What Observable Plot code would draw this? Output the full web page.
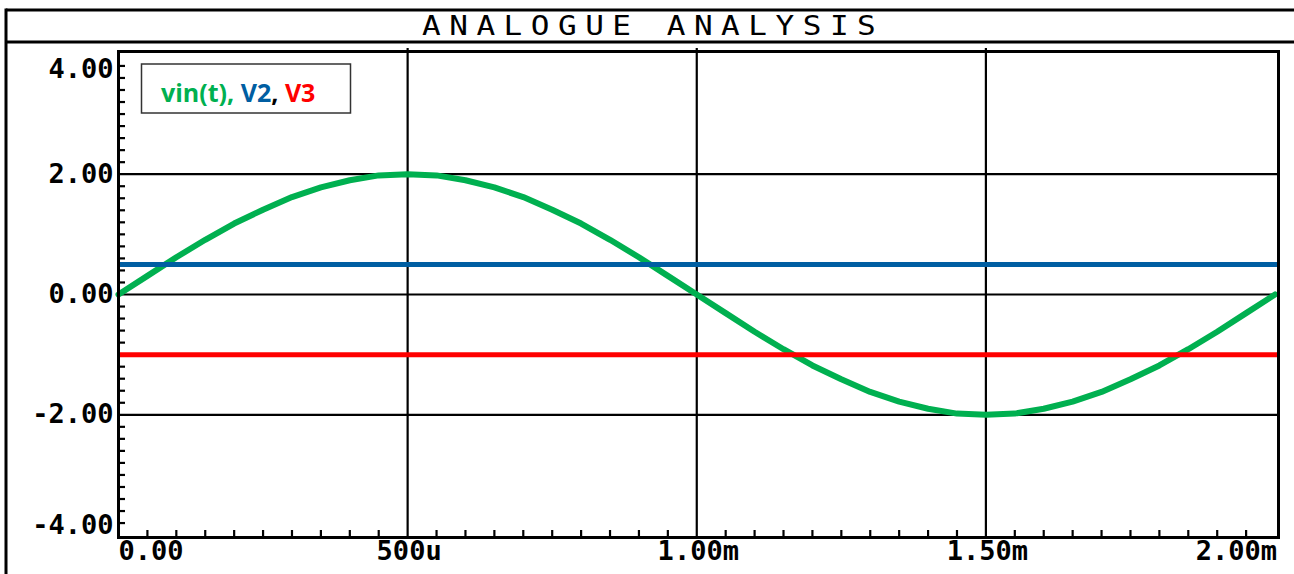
<!DOCTYPE html>
<html>
<head>
<meta charset="utf-8">
<script src="https://cdn.jsdelivr.net/npm/d3@7"></script>
<script src="https://cdn.jsdelivr.net/npm/@observablehq/plot@0.6"></script>
<style>
  html, body { margin: 0; padding: 0; background: #fff; }
  #chart svg { display: block; }
</style>
</head>
<body>
<div id="chart"></div>
<script>
// ---- data (time in ms, values in volts) ----
const timeMs = [0, 0.05, 0.1, 0.15, 0.2, 0.25, 0.3, 0.35, 0.4, 0.45, 0.5,
  0.55, 0.6, 0.65, 0.7, 0.75, 0.8, 0.85, 0.9, 0.95, 1.0,
  1.05, 1.1, 1.15, 1.2, 1.25, 1.3, 1.35, 1.4, 1.45, 1.5,
  1.55, 1.6, 1.65, 1.7, 1.75, 1.8, 1.85, 1.9, 1.95, 2.0];
const vin = [0, 0.31, 0.62, 0.91, 1.18, 1.41, 1.62, 1.78, 1.90, 1.98, 2.00,
  1.98, 1.90, 1.78, 1.62, 1.41, 1.18, 0.91, 0.62, 0.31, 0,
  -0.31, -0.62, -0.91, -1.18, -1.41, -1.62, -1.78, -1.90, -1.98, -2.00,
  -1.98, -1.90, -1.78, -1.62, -1.41, -1.18, -0.91, -0.62, -0.31, 0];
const v2 = 0.5;
const v3 = -1.0;

const xTicks = [0, 0.5, 1.0, 1.5, 2.0];
const xTickLabels = ["0.00", "500u", "1.00m", "1.50m", "2.00m"];
const yTicks = [-4, -2, 0, 2, 4];
const yTickLabels = ["-4.00", "-2.00", "0.00", "2.00", "4.00"];
const xGrid = [0.5, 1.0, 1.5];
const yGrid = [-2, 0, 2];

const seriesNames = ["vin(t)", "V2", "V3"];
const seriesColors = ["#00b050", "#005ea2", "#ff0000"];

const chartTitle = "ANALOGUE ANALYSIS";

// minor tick positions
const xMinor = d3.range(0, 41).map(i => i * 0.05).filter(v => Math.abs(v / 0.5 - Math.round(v / 0.5)) > 1e-6);
const yMinor = d3.range(-20, 21).map(i => i * 0.2).filter(v => Math.abs(v / 2 - Math.round(v / 2)) > 1e-6);

const rows = timeMs.map((t, i) => ({t, v: vin[i]}));
const tickFont = "'DejaVu Sans Mono', monospace";

const W = 1294, H = 574;
const mL = 118, mR = 16, mT = 51, mB = 37;
const innerW = W - mL - mR, innerH = H - mT - mB;

const xLab = xTicks.map((x, i) => ({x, label: xTickLabels[i]}));
const yLab = yTicks.map((y, i) => ({y, label: yTickLabels[i]}));

const lblStyle = {fontFamily: tickFont, fontWeight: "bold", fontSize: 27, fill: "#000", letterSpacing: "3.5px"};

const chart = Plot.plot({
  width: W, height: H,
  marginLeft: mL, marginRight: mR, marginTop: mT, marginBottom: mB,
  x: {domain: [0, 2.006], axis: null},
  y: {domain: [-4.04, 4.04], axis: null},
  style: {background: "#fff", overflow: "visible"},
  marks: [
    Plot.ruleX(xGrid, {stroke: "#000", strokeWidth: 2.2, insetTop: -3}),
    Plot.ruleY(yGrid, {stroke: "#000", strokeWidth: 2.2}),
    Plot.ruleX(xMinor, {stroke: "#000", strokeWidth: 2.2, insetTop: innerH - 7}),
    Plot.ruleY(yMinor, {stroke: "#000", strokeWidth: 2.2, insetRight: innerW - 7}),
    Plot.line(rows, {x: "t", y: "v", stroke: seriesColors[0], strokeWidth: 6, strokeLinejoin: "round"}),
    Plot.ruleY([v2], {stroke: seriesColors[1], strokeWidth: 5}),
    Plot.ruleY([v3], {stroke: seriesColors[2], strokeWidth: 5}),
    Plot.frame({stroke: "#000", strokeWidth: 3}),
    // y tick labels
    Plot.text(yLab.filter(d => Math.abs(d.y) < 4), {y: "y", text: "label", frameAnchor: "left", dx: -5, textAnchor: "end", ...lblStyle}),
    Plot.text(yLab.filter(d => d.y === 4), {y: "y", text: "label", frameAnchor: "left", dx: -5, dy: 15, textAnchor: "end", ...lblStyle}),
    Plot.text(yLab.filter(d => d.y === -4), {y: "y", text: "label", frameAnchor: "left", dx: -5, dy: -10, textAnchor: "end", ...lblStyle}),
    // x tick labels
    Plot.text(xLab.filter(d => d.x > 0 && d.x < 2), {x: "x", text: "label", frameAnchor: "bottom", dy: 22, dx: 1.5, ...lblStyle}),
    Plot.text(xLab.filter(d => d.x === 0), {x: "x", text: "label", frameAnchor: "bottom", dy: 22, textAnchor: "start", ...lblStyle}),
    Plot.text(xLab.filter(d => d.x === 2), {x: "x", text: "label", frameAnchor: "bottom", dy: 22, dx: 2, textAnchor: "end", ...lblStyle})
  ]
});

const svg = d3.select(chart);
// outer window frame + title bar
const deco = svg.append("g").attr("stroke", "#000").attr("stroke-width", 3);
deco.append("line").attr("x1", 6).attr("x2", W).attr("y1", 10).attr("y2", 10);
deco.append("line").attr("x1", 6).attr("x2", W).attr("y1", 42).attr("y2", 42);
deco.append("line").attr("x1", 6).attr("x2", 6).attr("y1", 8.5).attr("y2", H);

svg.append("text")
  .attr("transform", "translate(422,35) scale(1.15,1)")
  .attr("x", 0).attr("y", 0)
  .attr("text-anchor", "start")
  .attr("font-family", tickFont)
  .attr("font-size", 27)
  .attr("letter-spacing", "7.4px")
  .attr("fill", "#000")
  .text(chartTitle);

// legend box
const lg = svg.append("g");
lg.append("rect").attr("x", 141.5).attr("y", 64).attr("width", 209).attr("height", 49)
  .attr("fill", "#fff").attr("stroke", "#333").attr("stroke-width", 1.5);
const lt = lg.append("text").attr("x", 161).attr("y", 102).attr("text-anchor", "start")
  .attr("font-family", "'Open Sans', Lato, sans-serif").attr("font-weight", "bold").attr("font-size", 25);
lt.append("tspan").attr("fill", seriesColors[0]).text(seriesNames[0] + ", ");
lt.append("tspan").attr("fill", seriesColors[1]).text(seriesNames[1]);
lt.append("tspan").attr("fill", "#000").text(", ");
lt.append("tspan").attr("fill", seriesColors[2]).text(seriesNames[2]);

document.getElementById("chart").appendChild(chart);
</script>
</body>
</html>
